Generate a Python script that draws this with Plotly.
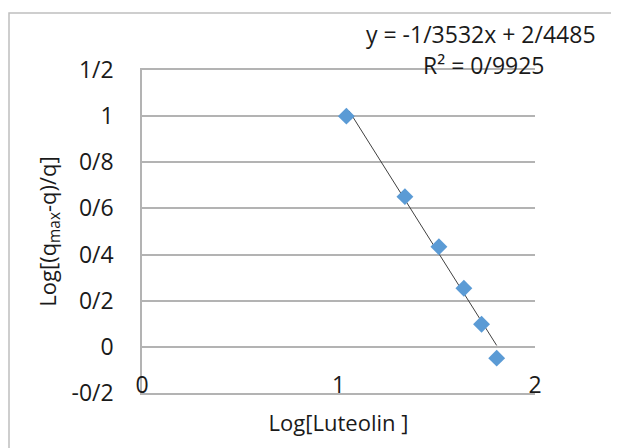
import plotly.graph_objects as go
import numpy as np

# Data
log_luteolin = [1.040, 1.338, 1.511, 1.638, 1.728, 1.805]
log_ratio = [1.000, 0.651, 0.434, 0.254, 0.098, -0.049]

# Trendline as reported on the chart
slope = -1.3532
intercept = 2.4485
eq_text = "y = -1/3532x + 2/4485"
r2_text = "R² = 0/9925"

y_tickvals = [-0.2, 0, 0.2, 0.4, 0.6, 0.8, 1.0, 1.2]
y_ticktext = ["-0/2", "0", "0/2", "0/4", "0/6", "0/8", "1", "1/2"]
x_tickvals = [0, 1, 2]
x_ticktext = ["0", "1", "2"]

FONT = "Open Sans"
GRID = "#b3b3b3"

# page body has an 8px margin, so the figure is 611x440 and shifted
W, H = 611, 440
L, T, R, B = 134, 62, 84, 55
PW = W - L - R
PH = H - T - B


def px(xpix):
    return (xpix - 8 - L) / PW


def py(ypix):
    return (H - B - (ypix - 8)) / PH


fit_x = np.array([1.054, max(log_luteolin)])
fit_y = slope * fit_x + intercept

fig = go.Figure()
fig.add_trace(go.Scatter(
    x=fit_x, y=fit_y, mode="lines",
    line=dict(color="#404040", width=1), showlegend=False, hoverinfo="skip"))
fig.add_trace(go.Scatter(
    x=log_luteolin, y=log_ratio, mode="markers",
    marker=dict(symbol="diamond", size=13, color="#5B9BD5", line=dict(width=0)),
    showlegend=False))

fig.update_layout(
    width=W, height=H,
    margin=dict(l=L, r=R, t=T, b=B),
    paper_bgcolor="white", plot_bgcolor="white",
    font=dict(family=FONT, size=23, color="#1a1a1a"),
    xaxis=dict(
        range=[0, 2], tickvals=x_tickvals, ticktext=x_ticktext,
        showgrid=False, zeroline=False,
        showline=True, mirror=True, linecolor=GRID, linewidth=1.5,
        ticks="", ticklabelstandoff=-29,
        title=dict(text="Log[Luteolin ]", font=dict(size=22), standoff=16),
    ),
    yaxis=dict(
        range=[-0.2, 1.2], tickvals=y_tickvals, ticktext=y_ticktext,
        showgrid=True, gridcolor=GRID, gridwidth=1.5, zeroline=False,
        showline=True, linecolor=GRID, linewidth=1.5,
        ticks="", ticklabelstandoff=22,
        title=dict(text="Log[(q<sub>max</sub>-q)/q]", font=dict(size=22), standoff=9),
    ),
    shapes=[dict(type="rect", xref="paper", yref="paper",
                 x0=px(9), x1=1.5, y0=-0.5, y1=py(13),
                 line=dict(color="#bfbfbf", width=1.5), layer="below")],
    annotations=[
        dict(text=eq_text, xref="paper", yref="paper",
             x=px(481), y=py(34), showarrow=False,
             xanchor="center", yanchor="middle", font=dict(size=23)),
        dict(text=r2_text, xref="paper", yref="paper",
             x=px(483), y=py(65), showarrow=False,
             xanchor="center", yanchor="middle", font=dict(size=23)),
    ],
)

fig.write_html("out.html")
